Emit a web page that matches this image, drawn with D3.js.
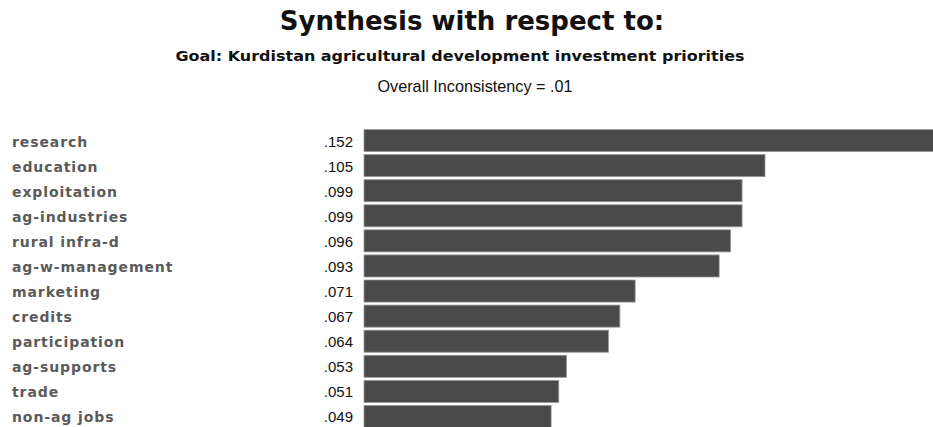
<!DOCTYPE html>
<html><head><meta charset="utf-8">
<script src="https://cdn.jsdelivr.net/npm/d3@7"></script>
<style>body{margin:0;background:#fff;overflow:hidden}</style>
</head><body>
<svg id="c" width="933" height="427"></svg>
<script>
const categories = ["research","education","exploitation","ag-industries","rural infra-d","ag-w-management","marketing","credits","participation","ag-supports","trade","non-ag jobs"];
const values = [0.152,0.105,0.099,0.099,0.096,0.093,0.071,0.067,0.064,0.053,0.051,0.049];
const valueLabels = [".152",".105",".099",".099",".096",".093",".071",".067",".064",".053",".051",".049"];
const title = "Synthesis with respect to:";
const subtitle = "Goal: Kurdistan agricultural development investment priorities";
const note = "Overall Inconsistency = .01";

const svg = d3.select("#c");
const x = d3.scaleLinear().domain([0, 0.105]).range([364, 765]);
const y = d3.scaleBand().domain(categories).range([129, 428]).paddingInner(0.12).paddingOuter(0.02);

svg.append("text").attr("x",472).attr("y",30).attr("text-anchor","middle")
  .attr("font-family","DejaVu Sans").attr("font-weight","bold").attr("font-size",26).attr("fill","#111").text(title);
svg.append("text").attr("x",460).attr("y",61).attr("text-anchor","middle")
  .attr("font-family","DejaVu Sans").attr("font-weight","bold").attr("font-size",14)
  .attr("textLength",569).attr("lengthAdjust","spacingAndGlyphs").attr("fill","#111").text(subtitle);
svg.append("text").attr("x",475).attr("y",92).attr("text-anchor","middle")
  .attr("font-family","Liberation Sans").attr("font-size",17)
  .attr("textLength",195).attr("lengthAdjust","spacingAndGlyphs").attr("fill","#111").text(note);

const rows = svg.selectAll("g.row").data(categories).enter().append("g").attr("class","row");
rows.append("rect")
  .attr("x", x(0))
  .attr("y", d => y(d))
  .attr("width", (d,i) => x(values[i]) - x(0))
  .attr("height", y.bandwidth())
  .attr("fill","#4a4a4a").attr("stroke","#9a9a9a").attr("stroke-width",0.8);
rows.append("text").attr("x",12).attr("y", d => y(d)+y.bandwidth()/2 + 6)
  .attr("font-family","DejaVu Sans").attr("font-weight","bold").attr("font-size",14)
  .attr("letter-spacing",0.9).attr("fill","#5a5a5a").text(d=>d);
rows.append("text").attr("x",353).attr("y", d => y(d)+y.bandwidth()/2 + 6).attr("text-anchor","end")
  .attr("font-family","Liberation Sans").attr("font-size",15).attr("fill","#111").text((d,i)=>valueLabels[i]);
</script>
</body></html>
